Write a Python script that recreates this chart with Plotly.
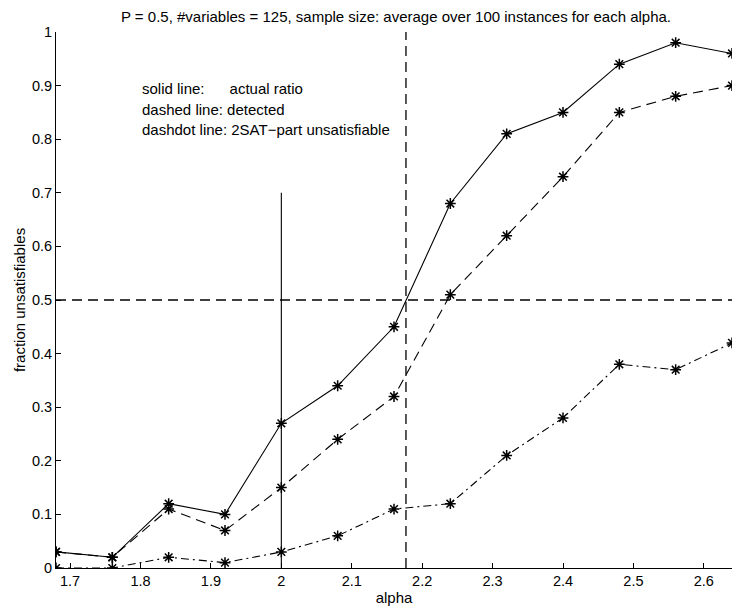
import plotly.graph_objects as go

alpha = [1.68, 1.76, 1.84, 1.92, 2.00, 2.08, 2.16, 2.24, 2.32, 2.40, 2.48, 2.56, 2.64]
actual = [0.03, 0.02, 0.12, 0.10, 0.27, 0.34, 0.45, 0.68, 0.81, 0.85, 0.94, 0.98, 0.96]
detected = [0.03, 0.02, 0.11, 0.07, 0.15, 0.24, 0.32, 0.51, 0.62, 0.73, 0.85, 0.88, 0.90]
twosat = [0.00, 0.00, 0.02, 0.01, 0.03, 0.06, 0.11, 0.12, 0.21, 0.28, 0.38, 0.37, 0.42]

xticks = [1.7, 1.8, 1.9, 2.0, 2.1, 2.2, 2.3, 2.4, 2.5, 2.6]
xticklabels = ["1.7", "1.8", "1.9", "2", "2.1", "2.2", "2.3", "2.4", "2.5", "2.6"]
yticks = [0, 0.1, 0.2, 0.3, 0.4, 0.5, 0.6, 0.7, 0.8, 0.9, 1.0]
yticklabels = ["0", "0.1", "0.2", "0.3", "0.4", "0.5", "0.6", "0.7", "0.8", "0.9", "1"]

vline_solid_x = 2.0
vline_solid_top = 0.7
vline_dash_x = 2.177
hline_y = 0.5

FONT = "Liberation Sans, Arial, Helvetica, sans-serif"
FS = 15

fig = go.Figure()
marker = dict(symbol="asterisk-open", size=9, color="black", line=dict(color="black", width=1.5))
for ys, dash in [(actual, "solid"), (detected, "10px,6px"), (twosat, "8px,4px,2px,4px")]:
    fig.add_trace(go.Scatter(x=alpha, y=ys, mode="lines+markers",
                             line=dict(color="black", width=1.1, dash=dash),
                             marker=marker, showlegend=False))

fig.add_trace(go.Scatter(x=[vline_solid_x, vline_solid_x], y=[0, vline_solid_top], mode="lines",
                         line=dict(color="black", width=1.1), showlegend=False))
fig.add_trace(go.Scatter(x=[vline_dash_x, vline_dash_x], y=[0, 1], mode="lines",
                         line=dict(color="black", width=1.3, dash="10px,6px"), showlegend=False))
fig.add_trace(go.Scatter(x=[1.68, 2.64], y=[hline_y, hline_y], mode="lines",
                         line=dict(color="black", width=1.3, dash="10px,6px"), showlegend=False))

notes = ["solid line:\u00a0\u00a0\u00a0\u00a0\u00a0\u00a0actual ratio",
         "dashed line: detected",
         "dashdot line: 2SAT\u2212part unsatisfiable"]
note_y = [0.894, 0.856, 0.818]
for t, yy in zip(notes, note_y):
    fig.add_annotation(x=1.799, y=yy, xref="x", yref="y", text=t, showarrow=False,
                       xanchor="left", yanchor="middle",
                       font=dict(family=FONT, size=FS, color="black"))

fig.update_layout(
    width=732, height=609,
    margin=dict(l=56, r=0, t=32, b=41),
    plot_bgcolor="white", paper_bgcolor="white",
    font=dict(family=FONT, size=FS, color="black"),
    title=dict(text="P = 0.5, #variables = 125, sample size: average over 100 instances for each alpha.",
               x=0.541, xanchor="center", y=0.972, yanchor="middle",
               font=dict(family=FONT, size=FS, color="black")),
)
fig.update_xaxes(range=[1.68, 2.64], tickvals=xticks, ticktext=xticklabels,
                 ticks="inside", ticklen=5, tickcolor="black", showline=True, linecolor="black",
                 linewidth=1, mirror=False, showgrid=False, zeroline=False, automargin=False,
                 tickfont=dict(family=FONT, size=14.5),
                 title=dict(text="alpha", standoff=0, font=dict(family=FONT, size=FS)))
fig.update_yaxes(range=[0, 1], tickvals=yticks, ticktext=yticklabels,
                 ticks="inside", ticklen=5, tickcolor="black", showline=True, linecolor="black",
                 linewidth=1, mirror=False, showgrid=False, zeroline=False, automargin=False,
                 tickfont=dict(family=FONT, size=14.5),
                 title=dict(text="fraction unsatisfiables", standoff=2, font=dict(family=FONT, size=FS)))

fig.write_html("out.html", config={"displayModeBar": False},
               post_script="document.body.style.margin='0px';document.body.style.padding='0px';")
